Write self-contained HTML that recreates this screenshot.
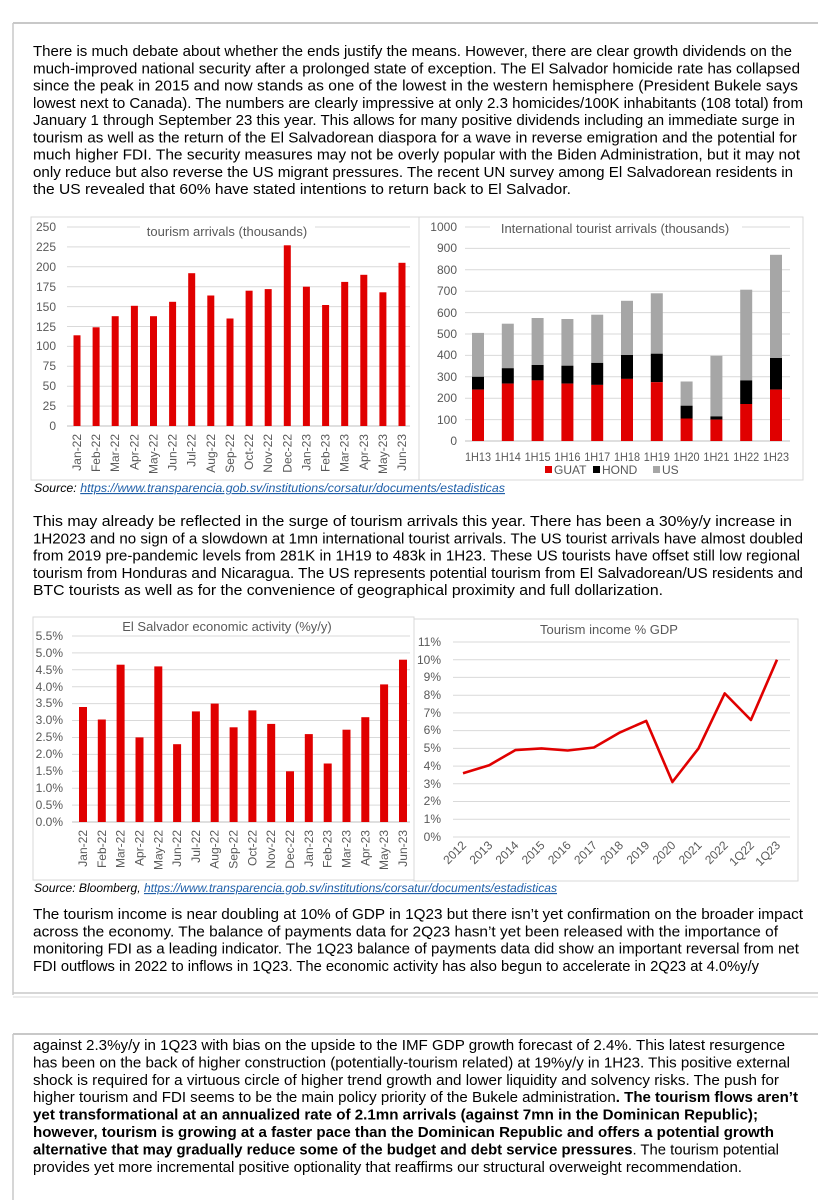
<!DOCTYPE html>
<html><head><meta charset="utf-8"><style>
html,body{margin:0;padding:0;background:#fff;}
svg{display:block;}
.t{font-family:"Liberation Sans",Arial,sans-serif;font-size:14.5px;fill:#000;}
.b{font-weight:bold;}
.ax{font-family:"Liberation Sans",Arial,sans-serif;font-size:12px;fill:#595959;}
.ti{font-family:"Liberation Sans",Arial,sans-serif;font-size:13px;fill:#595959;}
.src{font-family:"Liberation Sans",Arial,sans-serif;font-size:11.5px;font-style:italic;fill:#000;}
.lnk{fill:#1f5fa8;text-decoration:underline;}
.g{stroke:#d9d9d9;stroke-width:1;}
</style></head><body>
<svg width="833" height="1200" viewBox="0 0 833 1200" xmlns="http://www.w3.org/2000/svg">
<rect width="833" height="1200" fill="#fff"/>
<line x1="13" y1="23" x2="818" y2="23" stroke="#c8c8c8" stroke-width="2"/>
<line x1="13" y1="23" x2="13" y2="995" stroke="#c8c8c8" stroke-width="1.5"/>
<line x1="13" y1="993" x2="818" y2="993" stroke="#c8c8c8" stroke-width="1.5"/>
<line x1="13" y1="997" x2="818" y2="997" stroke="#d8d8d8" stroke-width="1"/>
<line x1="13" y1="1034" x2="818" y2="1034" stroke="#c8c8c8" stroke-width="2"/>
<line x1="13" y1="1034" x2="13" y2="1200" stroke="#c8c8c8" stroke-width="1.5"/>

<text class="t" x="33" y="56" textLength="759" lengthAdjust="spacingAndGlyphs">There is much debate about whether the ends justify the means. However, there are clear growth dividends on the</text>
<text class="t" x="33" y="73.3" textLength="767" lengthAdjust="spacingAndGlyphs">much-improved national security after a prolonged state of exception.  The El Salvador homicide rate has collapsed</text>
<text class="t" x="33" y="90.5" textLength="765" lengthAdjust="spacingAndGlyphs">since the peak in 2015 and now stands as one of the lowest in the western hemisphere (President Bukele says</text>
<text class="t" x="33" y="107.8" textLength="770" lengthAdjust="spacingAndGlyphs">lowest next to Canada). The numbers are clearly impressive at only 2.3 homicides/100K inhabitants (108 total) from</text>
<text class="t" x="33" y="125" textLength="762" lengthAdjust="spacingAndGlyphs">January 1 through September 23 this year. This allows for many positive dividends including an immediate surge in</text>
<text class="t" x="33" y="142.3" textLength="764" lengthAdjust="spacingAndGlyphs">tourism as well as the return of the El Salvadorean diaspora for a wave in reverse emigration and the potential for</text>
<text class="t" x="33" y="159.5" textLength="767" lengthAdjust="spacingAndGlyphs">much higher FDI. The security measures may not be overly popular with the Biden Administration, but it may not</text>
<text class="t" x="33" y="176.8" textLength="760" lengthAdjust="spacingAndGlyphs">only reduce but also reverse the US migrant pressures. The recent UN survey among El Salvadorean residents in</text>
<text class="t" x="33" y="194" textLength="538" lengthAdjust="spacingAndGlyphs">the US revealed that 60% have stated intentions to return back to El Salvador.</text>

<!-- chart 1 -->
<rect x="31" y="217" width="389" height="263" fill="#fff" stroke="#d9d9d9"/>
<g class="g">
<line x1="67" x2="410" y1="406.1" y2="406.1"/><line x1="67" x2="410" y1="386.2" y2="386.2"/><line x1="67" x2="410" y1="366.3" y2="366.3"/><line x1="67" x2="410" y1="346.4" y2="346.4"/><line x1="67" x2="410" y1="326.5" y2="326.5"/><line x1="67" x2="410" y1="306.6" y2="306.6"/><line x1="67" x2="410" y1="286.7" y2="286.7"/><line x1="67" x2="410" y1="266.8" y2="266.8"/><line x1="67" x2="410" y1="246.9" y2="246.9"/><line x1="67" x2="410" y1="227" y2="227"/>
</g>
<line x1="67" x2="410" y1="426" y2="426" stroke="#bfbfbf"/>
<g class="ax" text-anchor="end">
<text x="56" y="430">0</text><text x="56" y="410">25</text><text x="56" y="390">50</text><text x="56" y="370">75</text><text x="56" y="350">100</text><text x="56" y="331">125</text><text x="56" y="311">150</text><text x="56" y="291">175</text><text x="56" y="271">200</text><text x="56" y="251">225</text><text x="56" y="231">250</text>
</g>
<rect x="140" y="222" width="175" height="16" fill="#fff"/>
<text class="ti" x="227" y="236" text-anchor="middle">tourism arrivals (thousands)</text>
<g fill="#e00000">
<rect x="73.5" y="335.3" width="7" height="90.7"/><rect x="92.6" y="327.3" width="7" height="98.7"/><rect x="111.7" y="316.2" width="7" height="109.8"/><rect x="130.9" y="305.8" width="7" height="120.2"/><rect x="150" y="316.2" width="7" height="109.8"/><rect x="169.1" y="301.8" width="7" height="124.2"/><rect x="188.2" y="273.2" width="7" height="152.8"/><rect x="207.3" y="295.5" width="7" height="130.5"/><rect x="226.5" y="318.5" width="7" height="107.5"/><rect x="245.6" y="290.7" width="7" height="135.3"/><rect x="264.7" y="289.1" width="7" height="136.9"/><rect x="283.8" y="245.3" width="7" height="180.7"/><rect x="302.9" y="286.7" width="7" height="139.3"/><rect x="322.1" y="305" width="7" height="121"/><rect x="341.2" y="281.9" width="7" height="144.1"/><rect x="360.3" y="274.8" width="7" height="151.2"/><rect x="379.4" y="292.3" width="7" height="133.7"/><rect x="398.5" y="262.8" width="7" height="163.2"/>
</g>
<g class="ax" text-anchor="end">
<text transform="translate(81,434) rotate(-90)">Jan-22</text><text transform="translate(100.1,434) rotate(-90)">Feb-22</text><text transform="translate(119.2,434) rotate(-90)">Mar-22</text><text transform="translate(138.4,434) rotate(-90)">Apr-22</text><text transform="translate(157.5,434) rotate(-90)">May-22</text><text transform="translate(176.6,434) rotate(-90)">Jun-22</text><text transform="translate(195.7,434) rotate(-90)">Jul-22</text><text transform="translate(214.8,434) rotate(-90)">Aug-22</text><text transform="translate(234,434) rotate(-90)">Sep-22</text><text transform="translate(253.1,434) rotate(-90)">Oct-22</text><text transform="translate(272.2,434) rotate(-90)">Nov-22</text><text transform="translate(291.3,434) rotate(-90)">Dec-22</text><text transform="translate(310.4,434) rotate(-90)">Jan-23</text><text transform="translate(329.6,434) rotate(-90)">Feb-23</text><text transform="translate(348.7,434) rotate(-90)">Mar-23</text><text transform="translate(367.8,434) rotate(-90)">Apr-23</text><text transform="translate(386.9,434) rotate(-90)">May-23</text><text transform="translate(406,434) rotate(-90)">Jun-23</text>
</g>

<!-- chart 2 -->
<rect x="419" y="217" width="384" height="263" fill="#fff" stroke="#d9d9d9"/>
<g class="g">
<line x1="465" x2="790" y1="419.6" y2="419.6"/><line x1="465" x2="790" y1="398.2" y2="398.2"/><line x1="465" x2="790" y1="376.8" y2="376.8"/><line x1="465" x2="790" y1="355.4" y2="355.4"/><line x1="465" x2="790" y1="334" y2="334"/><line x1="465" x2="790" y1="312.6" y2="312.6"/><line x1="465" x2="790" y1="291.2" y2="291.2"/><line x1="465" x2="790" y1="269.8" y2="269.8"/><line x1="465" x2="790" y1="248.4" y2="248.4"/><line x1="465" x2="790" y1="227" y2="227"/>
</g>
<line x1="465" x2="790" y1="441" y2="441" stroke="#bfbfbf"/>
<g class="ax" text-anchor="end">
<text x="457" y="445">0</text><text x="457" y="424">100</text><text x="457" y="402">200</text><text x="457" y="381">300</text><text x="457" y="359">400</text><text x="457" y="338">500</text><text x="457" y="317">600</text><text x="457" y="295">700</text><text x="457" y="274">800</text><text x="457" y="252">900</text><text x="457" y="231">1000</text>
</g>
<rect x="490" y="221" width="252" height="15" fill="#fff"/>
<text class="ti" x="615" y="233" text-anchor="middle">International tourist arrivals (thousands)</text>
<g>
<rect x="472" y="332.9" width="12" height="43.9" fill="#a6a6a6"/><rect x="472" y="376.8" width="12" height="12.8" fill="#000"/><rect x="472" y="389.6" width="12" height="51.4" fill="#e00000"/>
<rect x="501.8" y="323.7" width="12" height="44.5" fill="#a6a6a6"/><rect x="501.8" y="368.2" width="12" height="15.4" fill="#000"/><rect x="501.8" y="383.6" width="12" height="57.4" fill="#e00000"/>
<rect x="531.6" y="318" width="12" height="47" fill="#a6a6a6"/><rect x="531.6" y="365" width="12" height="15.4" fill="#000"/><rect x="531.6" y="380.4" width="12" height="60.6" fill="#e00000"/>
<rect x="561.4" y="319" width="12" height="46.7" fill="#a6a6a6"/><rect x="561.4" y="365.7" width="12" height="17.9" fill="#000"/><rect x="561.4" y="383.6" width="12" height="57.4" fill="#e00000"/>
<rect x="591.2" y="314.7" width="12" height="48.2" fill="#a6a6a6"/><rect x="591.2" y="362.9" width="12" height="22" fill="#000"/><rect x="591.2" y="384.9" width="12" height="56.1" fill="#e00000"/>
<rect x="621" y="300.8" width="12" height="54.2" fill="#a6a6a6"/><rect x="621" y="355" width="12" height="23.9" fill="#000"/><rect x="621" y="378.9" width="12" height="62.1" fill="#e00000"/>
<rect x="650.8" y="293.3" width="12" height="60.4" fill="#a6a6a6"/><rect x="650.8" y="353.7" width="12" height="28.5" fill="#000"/><rect x="650.8" y="382.2" width="12" height="58.8" fill="#e00000"/>
<rect x="680.6" y="381.5" width="12" height="24.2" fill="#a6a6a6"/><rect x="680.6" y="405.7" width="12" height="12.8" fill="#000"/><rect x="680.6" y="418.5" width="12" height="22.5" fill="#e00000"/>
<rect x="710.4" y="355.8" width="12" height="60.6" fill="#a6a6a6"/><rect x="710.4" y="416.4" width="12" height="3.2" fill="#000"/><rect x="710.4" y="419.6" width="12" height="21.4" fill="#e00000"/>
<rect x="740.2" y="289.7" width="12" height="90.7" fill="#a6a6a6"/><rect x="740.2" y="380.4" width="12" height="23.6" fill="#000"/><rect x="740.2" y="404" width="12" height="37" fill="#e00000"/>
<rect x="770" y="254.8" width="12" height="103.2" fill="#a6a6a6"/><rect x="770" y="358" width="12" height="31.6" fill="#000"/><rect x="770" y="389.6" width="12" height="51.4" fill="#e00000"/>
</g>
<g class="ax" font-size="10.5">
<text x="465" y="461" textLength="26" lengthAdjust="spacingAndGlyphs">1H13</text><text x="494.8" y="461" textLength="26" lengthAdjust="spacingAndGlyphs">1H14</text><text x="524.6" y="461" textLength="26" lengthAdjust="spacingAndGlyphs">1H15</text><text x="554.4" y="461" textLength="26" lengthAdjust="spacingAndGlyphs">1H16</text><text x="584.2" y="461" textLength="26" lengthAdjust="spacingAndGlyphs">1H17</text><text x="614" y="461" textLength="26" lengthAdjust="spacingAndGlyphs">1H18</text><text x="643.8" y="461" textLength="26" lengthAdjust="spacingAndGlyphs">1H19</text><text x="673.6" y="461" textLength="26" lengthAdjust="spacingAndGlyphs">1H20</text><text x="703.4" y="461" textLength="26" lengthAdjust="spacingAndGlyphs">1H21</text><text x="733.2" y="461" textLength="26" lengthAdjust="spacingAndGlyphs">1H22</text><text x="763" y="461" textLength="26" lengthAdjust="spacingAndGlyphs">1H23</text>
</g>
<rect x="545" y="466" width="7" height="7" fill="#e00000"/><text class="ax" x="554" y="474">GUAT</text>
<rect x="593" y="466" width="7" height="7" fill="#000"/><text class="ax" x="602" y="474">HOND</text>
<rect x="653" y="466" width="7" height="7" fill="#a6a6a6"/><text class="ax" x="662" y="474">US</text>

<text class="src" x="34" y="492" textLength="471" lengthAdjust="spacingAndGlyphs">Source: <tspan class="lnk">https://www.transparencia.gob.sv/institutions/corsatur/documents/estadisticas</tspan></text>

<text class="t" x="33" y="526" textLength="759" lengthAdjust="spacingAndGlyphs">This may already be reflected in the surge of tourism arrivals this year. There has been a 30%y/y increase in</text>
<text class="t" x="33" y="543.3" textLength="770" lengthAdjust="spacingAndGlyphs">1H2023 and no sign of a slowdown at 1mn international tourist arrivals. The US tourist arrivals have almost doubled</text>
<text class="t" x="33" y="560.5" textLength="767" lengthAdjust="spacingAndGlyphs">from 2019 pre-pandemic levels from 281K in 1H19 to 483k in 1H23. These US tourists have offset still low regional</text>
<text class="t" x="33" y="577.8" textLength="770" lengthAdjust="spacingAndGlyphs">tourism from Honduras and Nicaragua.  The US represents potential tourism from El Salvadorean/US residents and</text>
<text class="t" x="33" y="595" textLength="630" lengthAdjust="spacingAndGlyphs">BTC tourists as well as for the convenience of geographical proximity and full dollarization.</text>

<!-- chart 3 -->
<rect x="33" y="617" width="381" height="263" fill="#fff" stroke="#d9d9d9"/>
<g class="g">
<line x1="72" x2="410" y1="805.1" y2="805.1"/><line x1="72" x2="410" y1="788.2" y2="788.2"/><line x1="72" x2="410" y1="771.3" y2="771.3"/><line x1="72" x2="410" y1="754.4" y2="754.4"/><line x1="72" x2="410" y1="737.5" y2="737.5"/><line x1="72" x2="410" y1="720.5" y2="720.5"/><line x1="72" x2="410" y1="703.6" y2="703.6"/><line x1="72" x2="410" y1="686.7" y2="686.7"/><line x1="72" x2="410" y1="669.8" y2="669.8"/><line x1="72" x2="410" y1="652.9" y2="652.9"/><line x1="72" x2="410" y1="636" y2="636"/>
</g>
<line x1="72" x2="410" y1="822" y2="822" stroke="#bfbfbf"/>
<g class="ax" text-anchor="end" font-size="11.5">
<text x="63" y="826">0.0%</text><text x="63" y="809">0.5%</text><text x="63" y="792">1.0%</text><text x="63" y="775">1.5%</text><text x="63" y="758">2.0%</text><text x="63" y="741">2.5%</text><text x="63" y="724">3.0%</text><text x="63" y="707">3.5%</text><text x="63" y="691">4.0%</text><text x="63" y="674">4.5%</text><text x="63" y="657">5.0%</text><text x="63" y="640">5.5%</text>
</g>
<text class="ti" x="227" y="631" text-anchor="middle">El Salvador economic activity (%y/y)</text>
<g fill="#e00000">
<rect x="79" y="707" width="8" height="115"/><rect x="97.8" y="719.5" width="8" height="102.5"/><rect x="116.6" y="664.7" width="8" height="157.3"/><rect x="135.5" y="737.4" width="8" height="84.6"/><rect x="154.3" y="666.4" width="8" height="155.6"/><rect x="173.1" y="744.2" width="8" height="77.8"/><rect x="191.9" y="711.4" width="8" height="110.6"/><rect x="210.7" y="703.6" width="8" height="118.4"/><rect x="229.6" y="727.3" width="8" height="94.7"/><rect x="248.4" y="710.4" width="8" height="111.6"/><rect x="267.2" y="723.9" width="8" height="98.1"/><rect x="286" y="771.3" width="8" height="50.7"/><rect x="304.8" y="734.1" width="8" height="87.9"/><rect x="323.7" y="763.5" width="8" height="58.5"/><rect x="342.5" y="729.7" width="8" height="92.3"/><rect x="361.3" y="717.2" width="8" height="104.8"/><rect x="380.1" y="684.4" width="8" height="137.6"/><rect x="399" y="659.7" width="8" height="162.3"/>
</g>
<g class="ax" text-anchor="end" font-size="11.5">
<text transform="translate(87,830) rotate(-90)">Jan-22</text><text transform="translate(105.8,830) rotate(-90)">Feb-22</text><text transform="translate(124.6,830) rotate(-90)">Mar-22</text><text transform="translate(143.5,830) rotate(-90)">Apr-22</text><text transform="translate(162.3,830) rotate(-90)">May-22</text><text transform="translate(181.1,830) rotate(-90)">Jun-22</text><text transform="translate(199.9,830) rotate(-90)">Jul-22</text><text transform="translate(218.7,830) rotate(-90)">Aug-22</text><text transform="translate(237.6,830) rotate(-90)">Sep-22</text><text transform="translate(256.4,830) rotate(-90)">Oct-22</text><text transform="translate(275.2,830) rotate(-90)">Nov-22</text><text transform="translate(294,830) rotate(-90)">Dec-22</text><text transform="translate(312.8,830) rotate(-90)">Jan-23</text><text transform="translate(331.7,830) rotate(-90)">Feb-23</text><text transform="translate(350.5,830) rotate(-90)">Mar-23</text><text transform="translate(369.3,830) rotate(-90)">Apr-23</text><text transform="translate(388.1,830) rotate(-90)">May-23</text><text transform="translate(407,830) rotate(-90)">Jun-23</text>
</g>

<!-- chart 4 -->
<rect x="414" y="619" width="384" height="262" fill="#fff" stroke="#d9d9d9"/>
<g class="g">
<line x1="453" x2="790" y1="819.3" y2="819.3"/><line x1="453" x2="790" y1="801.5" y2="801.5"/><line x1="453" x2="790" y1="783.8" y2="783.8"/><line x1="453" x2="790" y1="766.1" y2="766.1"/><line x1="453" x2="790" y1="748.4" y2="748.4"/><line x1="453" x2="790" y1="730.6" y2="730.6"/><line x1="453" x2="790" y1="712.9" y2="712.9"/><line x1="453" x2="790" y1="695.2" y2="695.2"/><line x1="453" x2="790" y1="677.4" y2="677.4"/><line x1="453" x2="790" y1="659.7" y2="659.7"/><line x1="453" x2="790" y1="642" y2="642"/>
</g>
<line x1="453" x2="790" y1="837" y2="837" stroke="#d9d9d9"/>
<g class="ax" text-anchor="end" font-size="11.5">
<text x="441" y="841">0%</text><text x="441" y="823">1%</text><text x="441" y="805">2%</text><text x="441" y="788">3%</text><text x="441" y="770">4%</text><text x="441" y="752">5%</text><text x="441" y="734">6%</text><text x="441" y="717">7%</text><text x="441" y="699">8%</text><text x="441" y="681">9%</text><text x="441" y="664">10%</text><text x="441" y="646">11%</text>
</g>
<text class="ti" x="609" y="634" text-anchor="middle">Tourism income % GDP</text>
<polyline fill="none" stroke="#e00000" stroke-width="2.6" stroke-linejoin="round" points="463,773.2 489.2,765.2 515.3,750.1 541.5,748.4 567.7,750.5 593.9,747.5 620,732.4 646.2,720.9 672.4,782 698.5,748.4 724.7,693.4 750.9,720 777,659.7"/>
<g class="ax" text-anchor="end" font-size="11">
<text transform="translate(467,846) rotate(-45)">2012</text><text transform="translate(493.2,846) rotate(-45)">2013</text><text transform="translate(519.3,846) rotate(-45)">2014</text><text transform="translate(545.5,846) rotate(-45)">2015</text><text transform="translate(571.7,846) rotate(-45)">2016</text><text transform="translate(597.9,846) rotate(-45)">2017</text><text transform="translate(624,846) rotate(-45)">2018</text><text transform="translate(650.2,846) rotate(-45)">2019</text><text transform="translate(676.4,846) rotate(-45)">2020</text><text transform="translate(702.5,846) rotate(-45)">2021</text><text transform="translate(728.7,846) rotate(-45)">2022</text><text transform="translate(754.9,846) rotate(-45)">1Q22</text><text transform="translate(781,846) rotate(-45)">1Q23</text>
</g>

<text class="src" x="34" y="892" textLength="523" lengthAdjust="spacingAndGlyphs">Source: Bloomberg, <tspan class="lnk">https://www.transparencia.gob.sv/institutions/corsatur/documents/estadisticas</tspan></text>

<text class="t" x="33" y="919" textLength="770" lengthAdjust="spacingAndGlyphs">The tourism income is near doubling at 10% of GDP in 1Q23 but there isn’t yet confirmation on the broader impact</text>
<text class="t" x="33" y="936.3" textLength="745" lengthAdjust="spacingAndGlyphs">across the economy.  The balance of payments data for 2Q23 hasn’t yet been released with the importance of</text>
<text class="t" x="33" y="953.5" textLength="766" lengthAdjust="spacingAndGlyphs">monitoring FDI as a leading indicator.  The 1Q23 balance of payments data did show an important reversal from net</text>
<text class="t" x="33" y="970.8" textLength="726" lengthAdjust="spacingAndGlyphs">FDI outflows in 2022 to inflows in 1Q23.  The economic activity has also begun to accelerate in 2Q23 at 4.0%y/y</text>

<text class="t" x="33" y="1050" textLength="752" lengthAdjust="spacingAndGlyphs">against 2.3%y/y in 1Q23 with bias on the upside to the IMF GDP growth forecast of 2.4%.  This latest resurgence</text>
<text class="t" x="33" y="1067.4" textLength="757" lengthAdjust="spacingAndGlyphs">has been on the back of higher construction (potentially-tourism related) at 19%y/y in 1H23. This positive external</text>
<text class="t" x="33" y="1084.8" textLength="746" lengthAdjust="spacingAndGlyphs">shock is required for a virtuous circle of higher trend growth and lower liquidity and solvency risks. The push for</text>
<text class="t" x="33" y="1102.2" textLength="765" lengthAdjust="spacingAndGlyphs">higher tourism and FDI seems to be the main policy priority of the Bukele administration<tspan class="b">. The tourism flows aren’t</tspan></text>
<text class="t b" x="33" y="1119.6" textLength="725" lengthAdjust="spacingAndGlyphs">yet transformational at an annualized rate of 2.1mn arrivals (against 7mn in the Dominican Republic);</text>
<text class="t b" x="33" y="1137" textLength="741" lengthAdjust="spacingAndGlyphs">however, tourism is growing at a faster pace than the Dominican Republic and offers a potential growth</text>
<text class="t" x="33" y="1154.4" textLength="746" lengthAdjust="spacingAndGlyphs"><tspan class="b">alternative that may gradually reduce some of the budget and debt service pressures</tspan>.  The tourism potential</text>
<text class="t" x="33" y="1171.8" textLength="709" lengthAdjust="spacingAndGlyphs">provides yet more incremental positive optionality that reaffirms our structural overweight recommendation.</text>
</svg>
</body></html>
